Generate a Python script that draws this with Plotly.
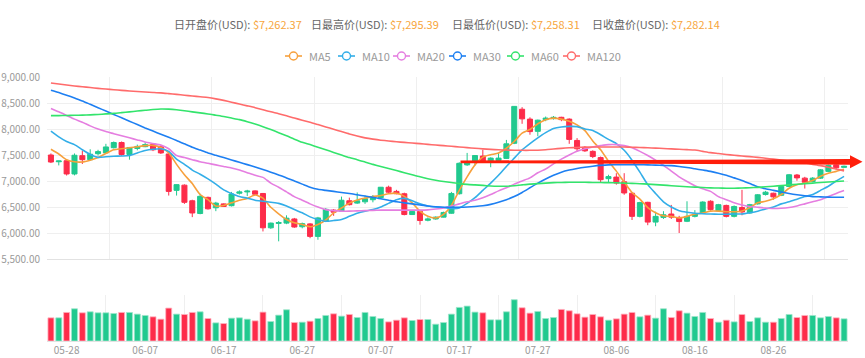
import plotly.graph_objects as go
import pandas as pd

# ---------------- data ----------------
dates = pd.date_range("2019-05-26", periods=102, freq="D").strftime("%m-%d").tolist()

opens = [7500, 7370, 7390, 7135, 7487, 7410, 7525, 7540, 7640, 7740,
         7510, 7625, 7660, 7700, 7660, 7520, 6820, 6920, 6620, 6375,
         6685, 6485, 6560, 6525, 6765, 6790, 6810, 6760, 6100, 6185,
         6190, 6270, 6120, 6175, 5935, 6225, 6440, 6420, 6620, 6575,
         6600, 6640, 6680, 6880, 6800, 6755, 6355, 6415, 6245, 6270,
         6305, 6380, 6755, 7310, 7380, 7480, 7370, 7395, 7435, 7725,
         8380, 8190, 7955, 8180, 8200, 8225, 8190, 7780, 7650, 7570,
         7450, 7045, 7075, 6985, 6765, 6320, 6590, 6210, 6300, 6365,
         6300, 6225, 6320, 6380, 6610, 6430, 6530, 6320, 6490, 6385,
         6560, 6740, 6765, 6725, 6895, 7115, 7055, 6990, 7055, 7185,
         7310, 7262.37]
highs = [7530, 7390, 7410, 7530, 7580, 7610, 7600, 7715, 7760, 7760,
         7655, 7700, 7745, 7715, 7690, 7540, 6935, 6935, 6640, 6755,
         6700, 6600, 6570, 6790, 6820, 6830, 6820, 6770, 6200, 6230,
         6340, 6290, 6200, 6190, 6310, 6480, 6460, 6700, 6680, 6780,
         6720, 6730, 6885, 6910, 6830, 6775, 6440, 6430, 6300, 6320,
         6410, 6790, 7360, 7540, 7500, 7600, 7455, 7540, 7790, 8440,
         8420, 8225, 8180, 8240, 8250, 8235, 8205, 7825, 7670, 7590,
         7470, 7120, 7150, 7150, 6780, 6600, 6600, 6410, 6420, 6540,
         6330, 6610, 6440, 6610, 6630, 6560, 6545, 6530, 6830, 6560,
         6750, 6810, 6775, 6910, 7135, 7135, 7080, 7075, 7230, 7315,
         7320, 7295.39]
lows = [7345, 7300, 7105, 7108, 7327, 7390, 7490, 7520, 7625, 7485,
        7410, 7590, 7650, 7575, 7520, 6720, 6720, 6560, 6305, 6360,
        6450, 6420, 6500, 6510, 6740, 6710, 6735, 6030, 6080, 5840,
        6170, 6100, 6090, 5900, 5870, 6210, 6330, 6405, 6530, 6560,
        6560, 6590, 6665, 6770, 6745, 6340, 6345, 6160, 6225, 6255,
        6300, 6370, 6740, 7290, 7300, 7350, 7265, 7370, 7425, 7710,
        8100, 7890, 7860, 8150, 8180, 8150, 7715, 7570, 7560, 7440,
        6980, 6980, 6930, 6735, 6250, 6300, 6150, 6130, 6270, 6270,
        6000, 6210, 6300, 6370, 6430, 6405, 6300, 6300, 6340, 6370,
        6545, 6720, 6640, 6710, 6885, 7005, 6855, 6975, 7040, 7170,
        7215, 7258.31]
closes = [7365, 7385, 7135, 7495, 7410, 7515, 7565, 7655, 7740, 7510,
          7645, 7665, 7700, 7600, 7540, 6800, 6930, 6590, 6385, 6705,
          6465, 6575, 6510, 6750, 6790, 6805, 6745, 6100, 6190, 6200,
          6285, 6115, 6180, 5935, 6290, 6455, 6400, 6630, 6545, 6620,
          6660, 6700, 6880, 6785, 6755, 6355, 6415, 6240, 6270, 6305,
          6395, 6760, 7340, 7360, 7490, 7360, 7440, 7440, 7715, 8435,
          8195, 7950, 8170, 8210, 8225, 8180, 7800, 7620, 7580, 7470,
          7025, 7085, 6960, 6770, 6320, 6585, 6210, 6320, 6350, 6305,
          6220, 6320, 6365, 6595, 6450, 6545, 6320, 6510, 6405, 6545,
          6735, 6785, 6695, 6895, 7120, 7060, 6975, 7055, 7215, 7300,
          7255, 7282.14]
volumes = [69, 69, 85, 96, 84, 87, 84, 84, 82, 85,
           85, 80, 76, 72, 65, 98, 80, 79, 85, 87,
           67, 54, 52, 68, 69, 65, 60, 86, 58, 77,
           93, 55, 56, 59, 67, 76, 81, 74, 79, 70,
           85, 73, 67, 57, 62, 69, 61, 64, 64, 50,
           55, 80, 100, 104, 86, 84, 63, 63, 87, 123,
           99, 83, 88, 67, 70, 94, 90, 81, 71, 79,
           72, 62, 66, 80, 85, 72, 77, 68, 96, 70,
           90, 83, 73, 85, 67, 56, 62, 57, 79, 58,
           69, 56, 56, 67, 79, 70, 76, 76, 69, 73,
           69, 66]

ma5 = [7610, 7520, 7410, 7370, 7365, 7400, 7450, 7530, 7600, 7620,
       7640, 7660, 7680, 7685, 7645, 7540, 7320, 7120, 6950, 6740,
       6640, 6520, 6530, 6580, 6630, 6665, 6730, 6670, 6495, 6370,
       6260, 6195, 6165, 6120, 6165, 6250, 6385, 6480, 6575, 6635,
       6670, 6700, 6720, 6755, 6765, 6705, 6580, 6420, 6320, 6290,
       6360, 6530, 6820, 7080, 7310, 7460, 7505, 7540, 7630, 7760,
       7920, 7990, 8100, 8180, 8210, 8190, 8150, 8080, 7970, 7770,
       7600, 7380, 7190, 6980, 6780, 6650, 6490, 6390, 6330, 6320,
       6290, 6320, 6365, 6385, 6420, 6420, 6410, 6410, 6425, 6490,
       6580, 6610, 6660, 6740, 6860, 6930, 6960, 7010, 7090, 7150,
       7185, 7225]
ma10 = [7960, 7850, 7760, 7700, 7600, 7510, 7455, 7465, 7475, 7480,
        7490, 7540, 7585, 7610, 7620, 7570, 7420, 7320, 7210, 7130,
        7040, 6940, 6830, 6760, 6700, 6670, 6630, 6610, 6590, 6570,
        6520, 6450, 6390, 6310, 6260, 6225, 6240, 6260, 6320, 6380,
        6420, 6450, 6500, 6570, 6640, 6665, 6620, 6560, 6520, 6500,
        6490, 6470, 6480, 6570, 6680, 6820, 6960, 7110, 7280, 7440,
        7600, 7720, 7830, 7930, 8010, 8040, 8050, 8045, 8000, 7970,
        7890, 7800, 7720, 7590, 7400, 7170, 6930, 6760, 6600, 6500,
        6430, 6400, 6380, 6370, 6365, 6360, 6360, 6365, 6365, 6390,
        6420, 6460, 6500, 6560, 6600, 6650, 6700, 6740, 6820, 6900,
        7000, 7090]
ma20 = [8395, 8330, 8260, 8190, 8130, 8060, 8000, 7950, 7910, 7870,
        7830, 7790, 7750, 7720, 7690, 7620, 7490, 7450, 7410, 7370,
        7340, 7310, 7280, 7250, 7210, 7160, 7110, 7070, 6960, 6880,
        6790, 6700, 6630, 6560, 6500, 6450, 6430, 6420, 6420, 6425,
        6430, 6435, 6440, 6440, 6440, 6440, 6440, 6440, 6445, 6460,
        6480, 6520, 6560, 6600, 6630, 6680, 6740, 6810, 6870, 6940,
        7000, 7060, 7160, 7230, 7330, 7420, 7500, 7570, 7620, 7655,
        7680, 7700, 7700, 7680, 7640, 7570, 7490, 7400, 7300, 7190,
        7080, 6990, 6910, 6850, 6800, 6700, 6640, 6580, 6540, 6510,
        6495, 6480, 6470, 6475, 6490, 6520, 6560, 6600, 6640, 6700,
        6760, 6815]
ma30 = [8745, 8700, 8650, 8595, 8540, 8475, 8410, 8345, 8280, 8215,
        8150, 8085, 8020, 7960, 7900, 7840, 7780, 7715, 7650, 7595,
        7540, 7495, 7450, 7405, 7360, 7315, 7270, 7220, 7170, 7115,
        7060, 7000, 6940, 6880, 6840, 6820, 6800, 6780, 6760, 6735,
        6710, 6685, 6660, 6630, 6600, 6580, 6560, 6540, 6520, 6505,
        6495, 6495, 6495, 6500, 6510, 6525, 6550, 6590, 6640, 6700,
        6780, 6870, 6960, 7040, 7110, 7170, 7210, 7240, 7265, 7285,
        7300, 7310, 7312, 7313, 7313, 7312, 7310, 7305, 7300, 7295,
        7280, 7260, 7235, 7210, 7185, 7150, 7110, 7060, 7010, 6950,
        6890, 6850, 6820, 6790, 6760, 6735, 6715, 6700, 6695, 6690,
        6688, 6688]
ma60 = [8258, 8258, 8260, 8263, 8267, 8272, 8280, 8290, 8300, 8315,
        8330, 8345, 8360, 8375, 8385, 8382, 8370, 8352, 8330, 8310,
        8290, 8265, 8240, 8210, 8180, 8140, 8095, 8045, 7990, 7930,
        7870, 7805, 7745, 7700, 7650, 7600, 7550, 7500, 7450, 7410,
        7365, 7320, 7280, 7240, 7200, 7160, 7120, 7080, 7045, 7015,
        6990, 6970, 6950, 6935, 6925, 6915, 6905, 6900, 6900, 6910,
        6925, 6940, 6950, 6960, 6968, 6972, 6975, 6976, 6975, 6972,
        6970, 6968, 6965, 6960, 6955, 6948, 6940, 6930, 6920, 6910,
        6900, 6890, 6882, 6875, 6868, 6864, 6862, 6862, 6865, 6870,
        6878, 6888, 6900, 6912, 6925, 6937, 6950, 6960, 6970, 6980,
        6990, 7000]
ma120 = [8885, 8865, 8845, 8828, 8812, 8797, 8782, 8768, 8755, 8743,
         8732, 8722, 8712, 8703, 8694, 8680, 8665, 8650, 8635, 8620,
         8605, 8580, 8550, 8515, 8480, 8445, 8410, 8370, 8330, 8295,
         8255, 8210, 8170, 8130, 8085, 8040, 7995, 7950, 7905, 7865,
         7830, 7805, 7785, 7770, 7755, 7742, 7730, 7718, 7705, 7692,
         7680, 7668, 7655, 7642, 7630, 7618, 7608, 7600, 7595, 7592,
         7590, 7590, 7592, 7600, 7615, 7628, 7638, 7645, 7650, 7653,
         7655, 7655, 7655, 7653, 7650, 7645, 7640, 7632, 7625, 7617,
         7610, 7603, 7595, 7570, 7545, 7528, 7510, 7495, 7480, 7468,
         7455, 7438, 7420, 7402, 7385, 7365, 7345, 7320, 7295, 7265,
         7230, 7195]

ma_names = ["MA5", "MA10", "MA20", "MA30", "MA60", "MA120"]
ma_series = [ma5, ma10, ma20, ma30, ma60, ma120]
ma_colors = ["#f7a03c", "#33aee8", "#e57ee0", "#1d7ff2", "#33e46c", "#ff6b6b"]

# ---------------- style ----------------
UP = "#21c98f"
DOWN = "#fd2c4a"
GRID = "#efefef"
AXIS = "#e2e2e2"
TXT = "#9a9a9a"
FONT = "Noto Sans CJK SC, Noto Sans, sans-serif"
L, R, T, B = 47, 17, 77, 17
W, H = 865, 358
PW, PH = W - L - R, H - T - B
Y_RANGE = [5500, 9000]
MAIN_BOTTOM_PX = 259
VOL_TOP_PX = 295


def px_x(px):
    return (px - L) / PW


def px_y(py):
    return (H - B - py) / PH


main_dom0 = px_y(MAIN_BOTTOM_PX)


def val_to_paper(v):
    return main_dom0 + (v - Y_RANGE[0]) / (Y_RANGE[1] - Y_RANGE[0]) * (1 - main_dom0)


x = list(range(len(dates)))
n = len(x)

fig = go.Figure()

fig.add_trace(go.Candlestick(
    x=x, open=opens, high=highs, low=lows, close=closes,
    increasing=dict(line=dict(color=UP, width=1), fillcolor=UP),
    decreasing=dict(line=dict(color=DOWN, width=1), fillcolor=DOWN),
    whiskerwidth=0, showlegend=False, hoverinfo="skip",
    xaxis="x", yaxis="y"))

for name, vals, col in zip(ma_names, ma_series, ma_colors):
    fig.add_trace(go.Scatter(
        x=x, y=vals, mode="lines", name=name,
        line=dict(color=col, width=1.6, shape="spline", smoothing=0.6),
        showlegend=False, hoverinfo="skip", xaxis="x", yaxis="y"))

vol_colors = [UP if c >= o else DOWN for o, c in zip(opens, closes)]
vol_border = ["#9ee6cb" if c >= o else "#ffb3bf" for o, c in zip(opens, closes)]
fig.add_trace(go.Bar(
    x=x, y=volumes, marker=dict(color=vol_colors, line=dict(color=vol_border, width=0.8)),
    showlegend=False, hoverinfo="skip", xaxis="x2", yaxis="y2"))

shapes = []
annotations = []

# header (values from last candle)
header_items = [("日开盘价(USD):\u00a0", opens[-1], 172), ("日最高价(USD):\u00a0", highs[-1], 309),
                ("日最低价(USD):\u00a0", lows[-1], 450), ("日收盘价(USD):\u00a0", closes[-1], 590)]
for lab, val, px in header_items:
    annotations.append(dict(
        xref="paper", yref="paper", x=px_x(px), y=px_y(24), xanchor="left", yanchor="middle",
        showarrow=False, font=dict(family=FONT, size=11, color="#666"),
        text="<span style='color:#666'>%s</span><span style='color:#f7a53b'>$%s</span>" % (lab, format(val, ",.2f"))))

# custom legend
leg_icon_x = [285, 338, 393, 449, 507, 563]
for name, col, px in zip(ma_names, ma_colors, leg_icon_x):
    ly = px_y(56)
    shapes.append(dict(type="line", xref="paper", yref="paper", x0=px_x(px), x1=px_x(px + 17),
                       y0=ly, y1=ly, line=dict(color=col, width=1.6)))
    shapes.append(dict(type="circle", xref="paper", yref="paper", xsizemode="pixel", ysizemode="pixel",
                       xanchor=px_x(px + 8.5), yanchor=ly, x0=-4, x1=4, y0=-4, y1=4,
                       fillcolor="white", line=dict(color=col, width=1.4)))
    annotations.append(dict(xref="paper", yref="paper", x=px_x(px + 22), y=ly, xanchor="left",
                            yanchor="middle", showarrow=False, text=name,
                            font=dict(family=FONT, size=11, color=TXT)))

# red arrow annotation (tapered), placed in paper coordinates so it is not clipped
ay = val_to_paper(7368)
pxh = 1.0 / PH  # one pixel in paper-y units
xs, xe, xt = px_x(460.5), px_x(850), px_x(862.5)
path = ("M %f,%f L %f,%f L %f,%f L %f,%f L %f,%f L %f,%f L %f,%f Z" %
        (xs, ay + 1.3 * pxh, xe, ay + 2.8 * pxh, xe, ay + 6.5 * pxh, xt, ay,
         xe, ay - 6.5 * pxh, xe, ay - 2.8 * pxh, xs, ay - 1.3 * pxh))
shapes.append(dict(type="path", xref="paper", yref="paper", path=path,
                   fillcolor="#ff1e0a", line=dict(width=0), layer="above"))

fig.update_layout(
    width=W, height=H,
    margin=dict(l=L, r=R, t=T, b=B, autoexpand=False),
    paper_bgcolor="white", plot_bgcolor="white",
    showlegend=False,
    boxgap=0.2, boxgroupgap=0.2, bargap=0.24,
    font=dict(family=FONT, size=10, color=TXT),
    shapes=shapes, annotations=annotations,
    xaxis=dict(domain=[0, 1], anchor="y", range=[-0.5, n - 0.5], automargin=False,
               tickmode="array", tickvals=[7.5 + 13 * k for k in range(8)],
               showticklabels=False, showgrid=True, gridcolor=GRID, gridwidth=1,
               zeroline=False, showline=True, linecolor=AXIS, ticks="",
               rangeslider=dict(visible=False)),
    yaxis=dict(domain=[main_dom0, 1], anchor="x", range=Y_RANGE, automargin=False,
               tickmode="linear", tick0=5500, dtick=500, tickformat=",.2f",
               showgrid=True, gridcolor=GRID, zeroline=False, ticks="",
               ticklabelstandoff=6, tickfont=dict(family=FONT, size=10, color=TXT)),
    xaxis2=dict(domain=[0, 1], anchor="y2", range=[-0.5, n - 0.5], automargin=False,
                tickmode="array", tickvals=[2 + 10 * k for k in range(10)],
                ticktext=[dates[2 + 10 * k] for k in range(10)],
                showgrid=False, zeroline=False, showline=True, linecolor=AXIS, ticks="",
                minor=dict(tickmode="array", tickvals=[7 + 10 * k for k in range(10)],
                           showgrid=True, gridcolor=GRID, ticks=""),
                tickfont=dict(family=FONT, size=10, color=TXT)),
    yaxis2=dict(domain=[0, px_y(VOL_TOP_PX)], anchor="x2", range=[0, 137], automargin=False,
                showticklabels=False, showgrid=False, zeroline=False, ticks=""),
)

fig.write_html("out.html", config={"displayModeBar": False},
               post_script="document.body.style.margin='0';document.body.style.overflow='hidden';")
